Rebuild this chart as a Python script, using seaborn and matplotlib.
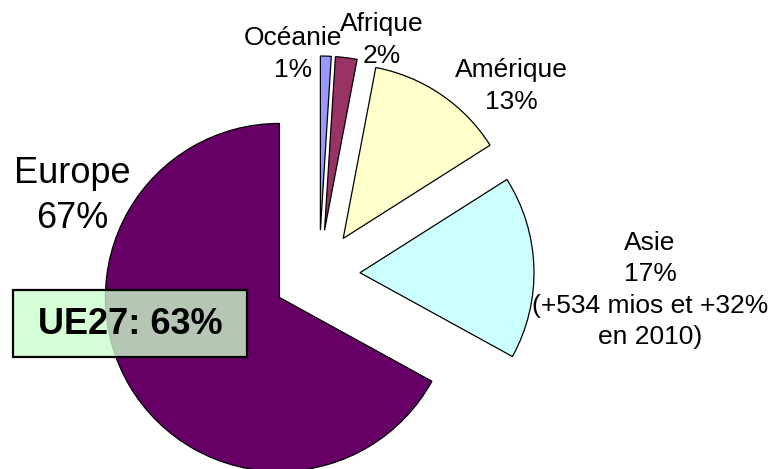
"""
Répartition par continent (pie chart, exploded slices)
"""
import matplotlib
matplotlib.use("Agg")
import matplotlib.pyplot as plt
import matplotlib.patches as mpatches
import seaborn as sns

regions = ["Europe", "Asie", "Amérique", "Afrique", "Océanie"]
shares = [67, 17, 13, 2, 1]
labels = ["Europe\n67%", "Asie\n17%\n(+534 mios et +32%\nen 2010)", "Amérique\n13%", "Afrique\n2%", "Océanie\n1%"]
slice_colors = ["#660066", "#CCFFFF", "#FFFFCC", "#993366", "#9999FF"]
ue27_label = "UE27: 63%"

sns.set_style("white")
plt.rcParams["font.family"] = ["Liberation Sans", "DejaVu Sans"]

W, H = 772, 469
fig = plt.figure(figsize=(W / 100, H / 100), dpi=100)
ax = fig.add_axes([0, 0, 1, 1])

# pixel-like data coordinates, pie centre and radius
ax.pie(shares, colors=sns.color_palette(slice_colors), startangle=90, counterclock=True,
       explode=[46, 41, 43, 44, 44], radius=174, center=(319, H - 274),
       wedgeprops=dict(edgecolor="black", linewidth=0.9))
ax.set_xlim(0, W)
ax.set_ylim(0, H)
ax.set_aspect("equal")
ax.axis("off")

# slice labels
label_pos = [(72, H - 196), (650, H - 290), (511, H - 86), (382, H - 40), (293, H - 54)]
label_size = [26, 19, 19, 19, 19]
for txt, (x, y), fs in zip(labels, label_pos, label_size):
    ax.text(x, y, txt, ha="center", va="center", fontsize=fs, color="black",
            linespacing=1.38, zorder=5)

# UE27 box
ax.add_patch(mpatches.Rectangle((13, H - 357), 234, 67, facecolor="#CCFFCC", alpha=0.78,
                                edgecolor="none", zorder=4))
ax.add_patch(mpatches.Rectangle((13, H - 357), 234, 67, facecolor="none",
                                edgecolor="black", linewidth=1.6, zorder=4))
ax.text(130, H - 324, ue27_label, ha="center", va="center", fontsize=26,
        fontweight="bold", color="black", zorder=5)

fig.savefig("out.png", dpi=100, facecolor="white")
